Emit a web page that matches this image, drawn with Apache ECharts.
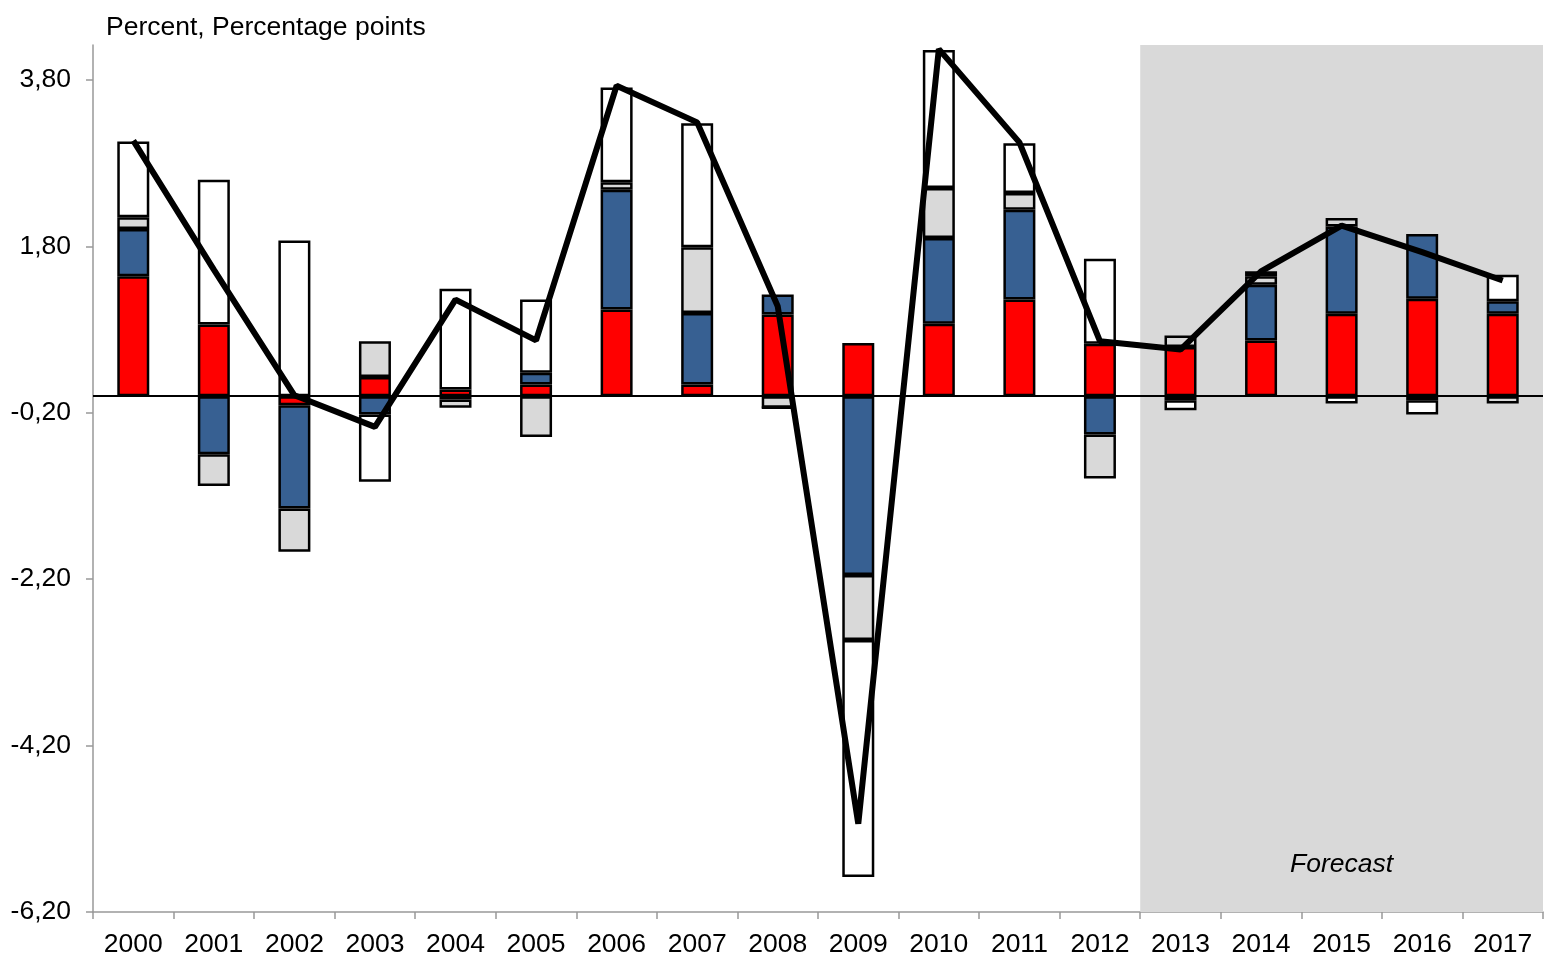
<!DOCTYPE html>
<html>
<head>
<meta charset="utf-8">
<title>Contributions</title>
<script src="https://cdn.jsdelivr.net/npm/echarts@6/dist/echarts.min.js"></script>
<style>
  html, body { margin: 0; padding: 0; background: #fff; }
  #chart { width: 1546px; height: 959px; }
</style>
</head>
<body>
<div id="chart"></div>
<script>
// years on the x axis
const years = ["2000", "2001", "2002", "2003", "2004", "2005", "2006", "2007", "2008",
  "2009", "2010", "2011", "2012", "2013", "2014", "2015", "2016", "2017"];

// contributions, percentage points
const redPart = [1.44, 0.86, -0.11, 0.23, 0.08, 0.14, 1.04, 0.14, 0.98, 0.64, 0.87, 1.16, 0.63, 0.59, 0.67, 0.99, 1.17, 0.99];
const bluePart = [0.57, -0.70, -1.24, -0.22, -0.04, 0.14, 1.44, 0.86, 0.24, -2.15, 1.03, 1.08, -0.46, -0.05, 0.67, 1.05, 0.78, 0.15];
const greyPart = [0.14, -0.38, -0.52, 0.43, -0.10, -0.49, 0.09, 0.79, -0.14, -0.78, 0.60, 0.20, -0.53, 0.14, 0.10, 0.10, -0.05, -0.09];
const whitePart = [0.91, 1.74, 1.87, -0.81, 1.21, 0.88, 1.14, 1.49, 0, -2.85, 1.66, 0.60, 1.02, -0.12, 0.06, -0.09, -0.17, 0.32];

// total growth, percent
const total = [3.07, 1.52, 0.01, -0.37, 1.16, 0.67, 3.73, 3.29, 1.08, -5.14, 4.17, 3.05, 0.66, 0.56, 1.50, 2.05, 1.73, 1.39];

// forecast period, in category index units
const forecastFrom = 13;
const forecastTo = 18;

const Y_MIN = -6.2;
const Y_STEP = 2;
const FONT = 26.5;

const chartDom = document.getElementById("chart");
const myChart = echarts.init(chartDom);

const fmt = (v) => {
  const k = (v - Y_MIN) / Y_STEP;
  if (Math.abs(k - Math.round(k)) > 1e-6) return "";
  return v.toFixed(2).replace(".", ",");
};

const barSeries = (name, data, color) => ({
  name: name,
  type: "bar",
  stack: "parts",
  data: data,
  barWidth: 32,
  z: 3,
  itemStyle: {
    color: color,
    borderColor: "#000",
    borderWidth: 2.5,
  },
});

const option = {
  animation: false,
  textStyle: { fontFamily: "Liberation Sans, Arial, sans-serif" },
  title: {
    text: "Percent, Percentage points",
    left: 101,
    top: 9,
    textStyle: {
      fontSize: FONT,
      fontWeight: "normal",
      color: "#000",
      fontFamily: "Liberation Sans, Arial, sans-serif",
    },
  },
  grid: {
    left: 93,
    right: 3,
    top: 45,
    bottom: 47,
    containLabel: false,
  },
  xAxis: [
    {
      type: "category",
      data: years,
      axisLine: { onZero: false, lineStyle: { color: "#999", width: 1.5 } },
      axisTick: { show: true, length: 7, lineStyle: { color: "#999", width: 1.5 } },
      axisLabel: { interval: 0, margin: 19, fontSize: FONT, color: "#000" },
    },
    {
      type: "value",
      min: 0,
      max: 18,
      show: false,
    },
  ],
  yAxis: {
    type: "value",
    min: Y_MIN,
    max: 4.22,
    interval: Y_STEP,
    splitLine: { show: false },
    axisLine: { show: true, lineStyle: { color: "#999", width: 1.5 } },
    axisTick: { show: true, length: 7, lineStyle: { color: "#999", width: 1.5 } },
    axisLabel: {
      margin: 22,
      fontSize: FONT,
      color: "#000",
      showMaxLabel: false,
      formatter: fmt,
    },
  },
  series: [
    {
      name: "Forecast",
      type: "line",
      xAxisIndex: 1,
      data: [],
      z: 0,
      silent: true,
      markArea: {
        silent: true,
        itemStyle: { color: "#D9D9D9" },
        label: {
          show: true,
          position: "insideBottom",
          distance: 34,
          formatter: "Forecast",
          fontSize: FONT,
          fontStyle: "italic",
          color: "#000",
        },
        data: [[{ xAxis: forecastFrom }, { xAxis: forecastTo }]],
      },
    },
    barSeries("Red", redPart, "#FF0000"),
    barSeries("Blue", bluePart, "#376092"),
    barSeries("Grey", greyPart, "#D9D9D9"),
    barSeries("White", whitePart, "#FFFFFF"),
    {
      name: "Total",
      type: "line",
      data: total,
      symbol: "none",
      z: 6,
      lineStyle: { color: "#000", width: 6 },
      markLine: {
        silent: true,
        symbol: "none",
        label: { show: false },
        lineStyle: { color: "#000", width: 2, type: "solid" },
        data: [{ yAxis: 0 }],
      },
    },
  ],
};

myChart.setOption(option);
window.addEventListener("resize", myChart.resize);
</script>
</body>
</html>
